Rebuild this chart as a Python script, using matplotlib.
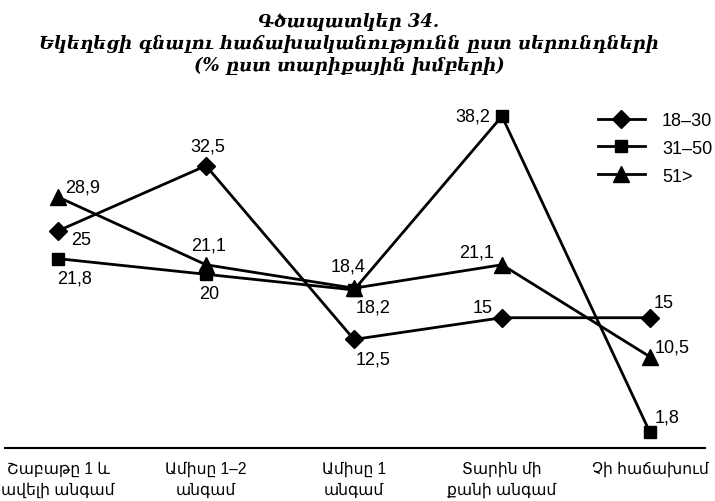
import matplotlib
matplotlib.use("Agg")
import matplotlib.pyplot as plt

categories = ["Շաբաթը 1 և\nավելի անգամ", "Ամիսը 1–2\nանգամ", "Ամիսը 1\nանգամ",
              "Տարին մի\nքանի անգամ", "Չի հաճախում"]
groups = ["18–30", "31–50", "51>"]
v_18_30 = [25, 32.5, 12.5, 15, 15]
v_31_50 = [21.8, 20, 18.2, 38.2, 1.8]
v_51 = [28.9, 21.1, 18.4, 21.1, 10.5]

series = [v_18_30, v_31_50, v_51]
markers = ["D", "s", "^"]
msizes = [9, 8.5, 12]

# where each value label sits relative to its marker (points)
offsets = [
    [(17, -6), (1, 14), (14, -14), (-14, 7), (10, 11)],
    [(12, -14), (2, -14), (14, -12), (-21, 0), (12, 11)],
    [(18, 7), (2, 14), (-4, 16), (-18, 9), (16, 7)],
]

sans = ["Liberation Sans", "DejaVu Sans"]
serif = ["DejaVu Serif"]

fig = plt.figure(figsize=(7.15, 5.02), dpi=100)
ax = fig.add_axes([5 / 715, 0.1056, 700 / 715, 0.692])

x = list(range(len(categories)))
handles = []
for vals, m, ms, offs, name in zip(series, markers, msizes, offsets, groups):
    h, = ax.plot(x, vals, color="black", lw=2, marker=m, markersize=ms,
                 clip_on=False, label=name)
    handles.append(h)
    for xi, v, off in zip(x, vals, offs):
        ax.annotate(f"{v:g}".replace(".", ","), (xi, v), xytext=off,
                    textcoords="offset points", ha="center", va="center",
                    fontsize=13, family=sans)

ax.set_xlim(-0.358, 4.372)
ax.set_ylim(0, 40)
for s in ["top", "right", "left"]:
    ax.spines[s].set_visible(False)
ax.spines["bottom"].set_linewidth(1.5)
ax.set_yticks([])
ax.set_xticks(x)
ax.set_xticklabels(categories, fontsize=11.2, family=sans, linespacing=1.45)
ax.tick_params(axis="x", length=0, pad=9)

fig.legend(handles=handles, loc="upper left", bbox_to_anchor=(598 / 715, 0.775),
           frameon=False, prop={"family": sans, "size": 13}, borderpad=0,
           borderaxespad=0, handlelength=2.6, labelspacing=0.6,
           handletextpad=0.95)

fig.text(0.488, 0.975, "Գծապատկեր 34.\nԵկեղեցի գնալու հաճախականությունն ըստ սերունդների\n(% ըստ տարիքային խմբերի)",
         ha="center", va="top", fontsize=13, family=serif, fontweight="bold",
         style="italic", linespacing=1.3)

fig.savefig("out.png", dpi=100)
